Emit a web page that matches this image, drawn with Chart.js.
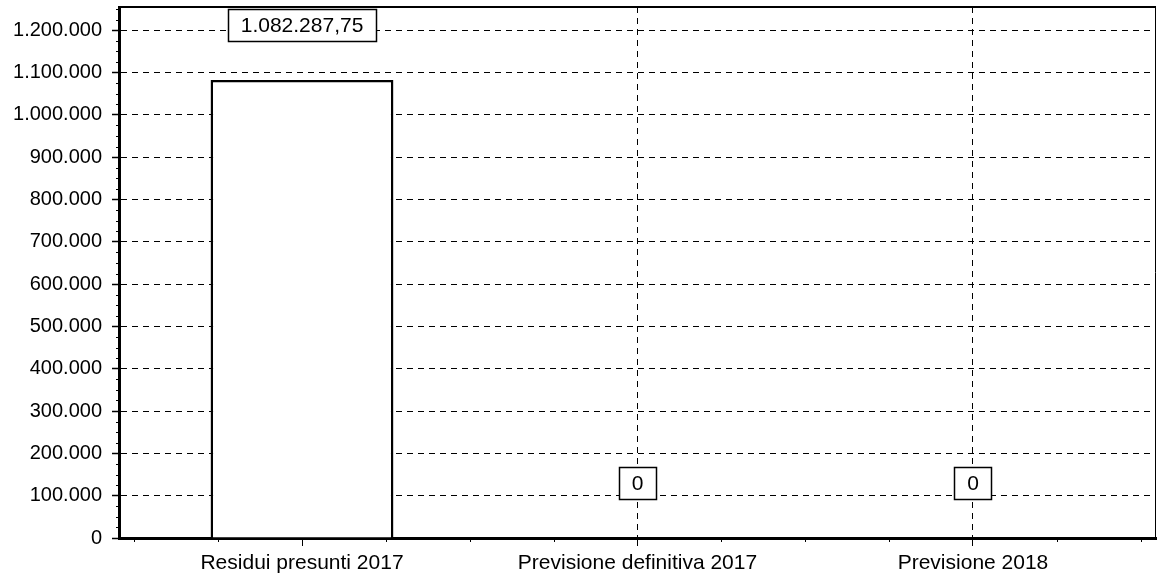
<!DOCTYPE html>
<html>
<head>
<meta charset="utf-8">
<script src="https://cdn.jsdelivr.net/npm/chart.js@4/dist/chart.umd.min.js"></script>
<style>
  html, body { margin: 0; padding: 0; background: #fff; }
  #wrap { width: 1157px; height: 580px; }
</style>
</head>
<body>
<div id="wrap"><canvas id="c" width="1157" height="580"></canvas></div>
<script>
const categories = ['Residui presunti 2017', 'Previsione definitiva 2017', 'Previsione 2018'];
const values = [1082287.75, 0, 0];
const valueLabels = ['1.082.287,75', '0', '0'];
const yTicks = [0, 100000, 200000, 300000, 400000, 500000, 600000, 700000, 800000, 900000, 1000000, 1100000, 1200000];

const FONT = "'Liberation Sans', Arial, sans-serif";

function fmtThousands(v) {
  return String(Math.round(v)).replace(/\B(?=(\d{3})+(?!\d))/g, '.');
}

const frame = {
  id: 'frame',
  afterDraw(chart) {
    const {ctx, chartArea: a} = chart;
    ctx.save();
    ctx.strokeStyle = '#000';
    ctx.lineWidth = 2;
    ctx.beginPath();
    ctx.moveTo(a.left, a.top);
    ctx.lineTo(a.right, a.top);
    ctx.stroke();
    ctx.lineWidth = 1;
    ctx.beginPath();
    ctx.moveTo(a.right - 0.5, a.top);
    ctx.lineTo(a.right - 0.5, a.bottom);
    ctx.stroke();
    const xs = chart.scales.x;
    for (let v = -0.5; v <= 2.5001; v += 0.25) {
      if (Math.abs(v - Math.round(v)) < 1e-6) continue;
      const px = Math.round(xs.getPixelForValue(v)) + 0.5;
      ctx.beginPath();
      ctx.moveTo(px, a.bottom);
      ctx.lineTo(px, a.bottom + 4);
      ctx.stroke();
    }
    const ys = chart.scales.y;
    for (let v = 25000; v < 1255000; v += 25000) {
      if (v % 100000 === 0) continue;
      const py = Math.round(ys.getPixelForValue(v)) + 0.5;
      ctx.beginPath();
      ctx.moveTo(a.left - 3, py);
      ctx.lineTo(a.left, py);
      ctx.stroke();
    }
    ctx.restore();
  }
};

const boxLabels = {
  id: 'boxLabels',
  afterDatasetsDraw(chart) {
    const {ctx} = chart;
    const xs = chart.scales.x, ys = chart.scales.y;
    ctx.save();
    ctx.font = '21px ' + FONT;
    ctx.textAlign = 'center';
    ctx.textBaseline = 'middle';
    values.forEach((v, i) => {
      const cx = xs.getPixelForValue(i);
      const cy = ys.getPixelForValue(v) - 55;
      const t = valueLabels[i];
      const w = Math.round(ctx.measureText(t).width + 25);
      const h = 32;
      const x0 = Math.round(cx - w / 2) + 0.5, y0 = Math.round(cy - h / 2) + 0.5;
      ctx.fillStyle = '#fff';
      ctx.fillRect(x0, y0, w, h);
      ctx.strokeStyle = '#000';
      ctx.lineWidth = 1.5;
      ctx.strokeRect(x0, y0, w, h);
      ctx.fillStyle = '#000';
      ctx.fillText(t, cx, cy + 1);
    });
    ctx.restore();
  }
};

new Chart(document.getElementById('c'), {
  type: 'bar',
  data: {
    datasets: [{
      data: values.map((v, i) => ({x: i, y: v})),
      backgroundColor: '#fff',
      borderColor: '#000',
      borderWidth: 2.5,
      borderSkipped: 'bottom',
      categoryPercentage: 1,
      barPercentage: 0.545
    }]
  },
  options: {
    responsive: false,
    animation: false,
    devicePixelRatio: 1,
    layout: { padding: { top: 7, right: 1, left: 0, bottom: 0 } },
    plugins: { legend: { display: false }, tooltip: { enabled: false } },
    scales: {
      x: {
        type: 'linear',
        offset: false,
        min: -0.5455,
        max: 2.5455,
        afterBuildTicks(s) { s.ticks = categories.map((c, i) => ({value: i})); },
        afterFit(s) { s.height = 42; s.paddingLeft = 0; s.paddingRight = 0; },
        ticks: {
          callback: (v) => categories[v] ?? '',
          font: { family: FONT, size: 21 },
          color: '#000',
          padding: 5,
          maxRotation: 0,
          autoSkip: false
        },
        grid: {
          offset: false,
          color: (ctx) => (ctx.tick && ctx.tick.value === 0) ? 'rgba(0,0,0,0)' : '#000',
          lineWidth: 1,
          tickColor: '#000',
          tickLength: 8,
          tickWidth: 1
        },
        border: { display: true, color: '#000', width: 3, dash: [6, 5] }
      },
      y: {
        min: 0,
        max: 1255000,
        afterBuildTicks(s) { s.ticks = yTicks.map(v => ({value: v})); },
        afterFit(s) { s.width = 119; s.paddingTop = 0; s.paddingBottom = 0; },
        ticks: {
          callback: (v) => fmtThousands(v),
          font: { family: FONT, size: 20 },
          color: '#000',
          padding: 10
        },
        grid: {
          color: (ctx) => (ctx.tick && ctx.tick.value === 0) ? 'rgba(0,0,0,0)' : '#000',
          lineWidth: 1,
          tickColor: '#000',
          tickLength: 7,
          tickWidth: 1.5
        },
        border: { display: true, color: '#000', width: 3, dash: [6, 5] }
      }
    }
  },
  plugins: [frame, boxLabels]
});
</script>
</body>
</html>
